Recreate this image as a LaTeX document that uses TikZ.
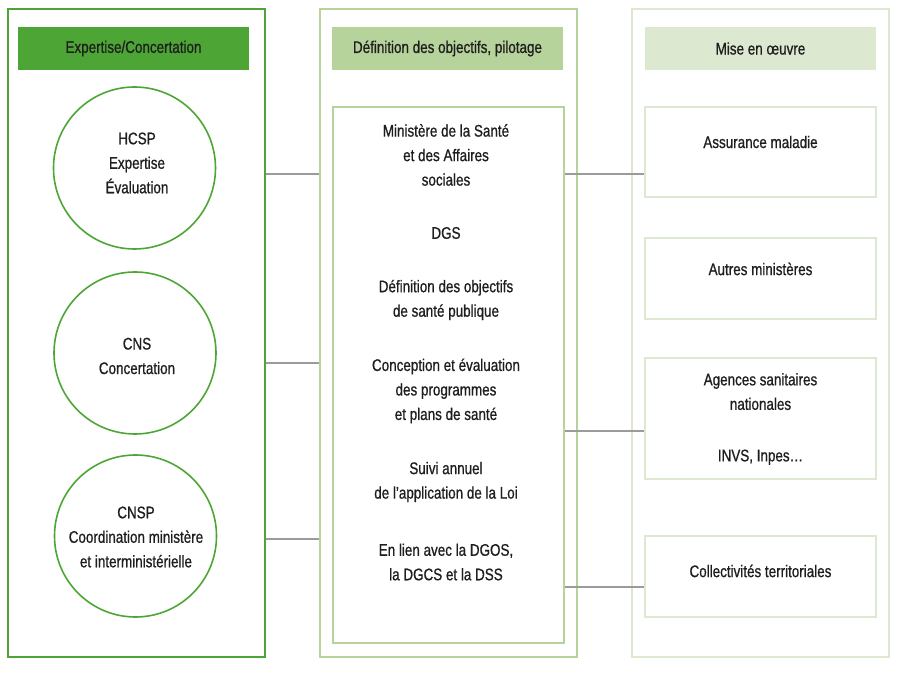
\documentclass[tikz,border=0pt]{standalone}
\usepackage{fontspec}
\setmainfont[FakeStretch=0.80,FakeBold=0.8]{Liberation Sans}
\definecolor{dkgreen}{HTML}{4DA536}
\definecolor{mdgreen}{HTML}{B5D39B}
\definecolor{ltgreen}{HTML}{DDE8D0}
\definecolor{linegray}{HTML}{9B9B9B}
\definecolor{txtcol}{HTML}{1E1E1E}
\begin{document}
\begin{tikzpicture}[x=1pt,y=-1pt,
  every node/.style={font=\fontsize{16.8}{24.5}\selectfont, text=txtcol, inner sep=0pt, align=center},
  panel/.style={draw=#1, line width=2pt, minimum width=257pt, minimum height=647.5pt},
  header/.style={fill=#1, minimum width=231pt, minimum height=43pt},
  itembox/.style={draw=#1, line width=2pt, minimum width=231pt},
  ring/.style={circle, draw=dkgreen, line width=1.6pt, minimum size=162pt},
  link/.style={draw=linegray, line width=2pt}
]
\useasboundingbox (0,0) rectangle (898,676);

% panels
\node[panel=dkgreen] (lp) at (136.5,333.25) {};
\node[panel=mdgreen] (mp) at (448.5,333.25) {};
\node[panel=ltgreen] (rp) at (760.5,333.25) {};

% headers
\node[header=dkgreen] (lh) at (133.5,48.5) {Expertise/Concertation};
\node[header=mdgreen] (mh) at (447.5,48.5) {Définition des objectifs, pilotage};
\node[header=ltgreen] (rh) at (760.5,48.5) {Mise en œuvre};

% left circles
\node[ring] (c1) at (134.5,168) {};
\node (t1) at (137,163) {HCSP\\Expertise\\Évaluation};
\node[ring] (c2) at (135,353) {};
\node (t2) at (137,356) {CNS\\Concertation};
\node[ring] (c3) at (135.5,536) {};
\node (t3) at (136,537) {CNSP\\Coordination ministère\\et interministérielle};

% middle inner box
\node[itembox=mdgreen, minimum height=536pt] (mi) at (448.5,375) {};
\node (m1) at (446,155) {Ministère de la Santé\\et des Affaires\\sociales};
\node (m2) at (446,233) {DGS};
\node (m3) at (446,300) {Définition des objectifs\\de santé publique};
\node (m4) at (446,391) {Conception et évaluation\\des programmes\\et plans de santé};
\node (m5) at (446,482) {Suivi annuel\\de l’application de la Loi};
\node (m6) at (446,562) {En lien avec la DGOS,\\la DGCS et la DSS};

% right boxes
\node[itembox=ltgreen, minimum height=90pt] (b1) at (760.5,152) {};
\node (r1) at (760.5,142) {Assurance maladie};
\node[itembox=ltgreen, minimum height=81pt] (b2) at (760.5,278.5) {};
\node (r2) at (760.5,269) {Autres ministères};
\node[itembox=ltgreen, minimum height=121pt] (b3) at (760.5,418.5) {};
\node (r3) at (760.5,419) {Agences sanitaires\\nationales\\[27pt]INVS, Inpes…};
\node[itembox=ltgreen, minimum height=81pt] (b4) at (760.5,576.5) {};
\node (r4) at (760.5,571) {Collectivités territoriales};

% connector levels
\coordinate (y1) at (0,174);
\coordinate (y2) at (0,363);
\coordinate (y3) at (0,539);
\coordinate (y4) at (0,431);
\coordinate (y5) at (0,587);

\draw[link] (lp.east |- y1) -- (mp.west |- y1);
\draw[link] (lp.east |- y2) -- (mp.west |- y2);
\draw[link] (lp.east |- y3) -- (mp.west |- y3);
\draw[link] (mi.east |- y1) -- (b1.west |- y1);
\draw[link] (mi.east |- y4) -- (b3.west |- y4);
\draw[link] (mi.east |- y5) -- (b4.west |- y5);
\end{tikzpicture}
\end{document}
